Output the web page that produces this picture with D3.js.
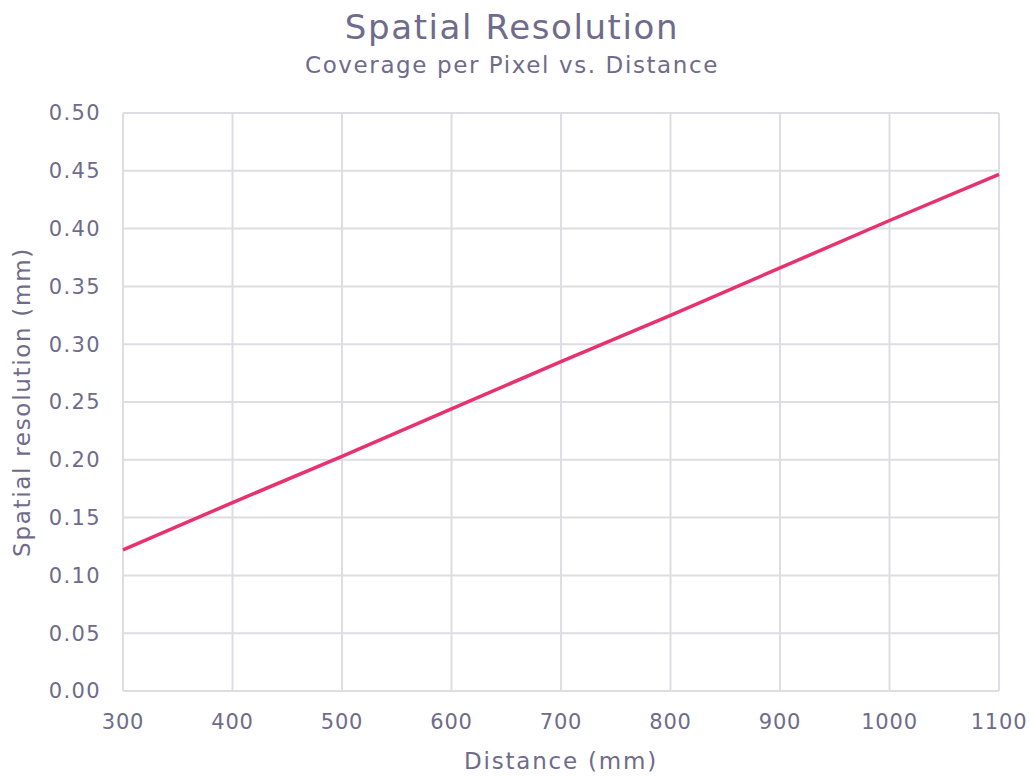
<!DOCTYPE html>
<html>
<head>
<meta charset="utf-8">
<script src="https://cdn.jsdelivr.net/npm/d3@7"></script>
<style>
  body { margin: 0; background: #fff; }
  text { font-family: "DejaVu Sans", sans-serif; fill: #6f6b8a; }
</style>
</head>
<body>
<div id="chart"></div>
<script>
// distance (mm) and spatial resolution (mm per pixel)
var distances = [300, 400, 500, 600, 700, 800, 900, 1000, 1100];
var resolution = [0.122, 0.163, 0.203, 0.244, 0.285, 0.325, 0.366, 0.407, 0.447];
var xTicks = [300, 400, 500, 600, 700, 800, 900, 1000, 1100];
var yTicks = [0, 0.05, 0.1, 0.15, 0.2, 0.25, 0.3, 0.35, 0.4, 0.45, 0.5];

var W = 1029, H = 776;
var margin = { top: 113, left: 123, right: 30, bottom: 85 };
var width = W - margin.left - margin.right,
    height = H - margin.top - margin.bottom;

var svg = d3.select("#chart").append("svg")
  .attr("width", W)
  .attr("height", H);

var g = svg.append("g")
  .attr("transform", "translate(" + margin.left + "," + margin.top + ")");

var x = d3.scaleLinear().domain([300, 1100]).range([0, width]);
var y = d3.scaleLinear().domain([0, 0.5]).range([height, 0]);

// grid lines
g.selectAll(".vgrid").data(xTicks).enter().append("line")
  .attr("x1", function(d) { return x(d); })
  .attr("x2", function(d) { return x(d); })
  .attr("y1", 0).attr("y2", height)
  .attr("stroke", "#dedde3").attr("stroke-width", 2);

g.selectAll(".hgrid").data(yTicks).enter().append("line")
  .attr("y1", function(d) { return y(d); })
  .attr("y2", function(d) { return y(d); })
  .attr("x1", 0).attr("x2", width)
  .attr("stroke", "#dedde3").attr("stroke-width", 2);

// tick labels
g.selectAll(".ylab").data(yTicks).enter().append("text")
  .attr("x", -22)
  .attr("y", function(d) { return y(d); })
  .attr("dy", "0.35em")
  .attr("text-anchor", "end")
  .attr("font-size", 21)
  .attr("letter-spacing", 1.4)
  .text(function(d) { return d3.format(".2f")(d); });

g.selectAll(".xlab").data(xTicks).enter().append("text")
  .attr("x", function(d) { return x(d); })
  .attr("y", height + 38)
  .attr("text-anchor", "middle")
  .attr("font-size", 21)
  .attr("letter-spacing", 0.8)
  .text(function(d) { return d; });

// the line
var line = d3.line()
  .x(function(d, i) { return x(distances[i]); })
  .y(function(d) { return y(d); });

g.append("path")
  .datum(resolution)
  .attr("d", line)
  .attr("fill", "none")
  .attr("stroke", "#e8326f")
  .attr("stroke-width", 3.5);

// titles
svg.append("text")
  .attr("x", 512).attr("y", 39)
  .attr("text-anchor", "middle")
  .attr("font-size", 34)
  .attr("letter-spacing", 1.6)
  .text("Spatial Resolution");

svg.append("text")
  .attr("x", 512).attr("y", 73)
  .attr("text-anchor", "middle")
  .attr("font-size", 23)
  .attr("letter-spacing", 1.6)
  .text("Coverage per Pixel vs. Distance");

svg.append("text")
  .attr("x", margin.left + width / 2).attr("y", 769)
  .attr("text-anchor", "middle")
  .attr("font-size", 23)
  .attr("letter-spacing", 1.8)
  .text("Distance (mm)");

svg.append("text")
  .attr("transform", "translate(30," + (margin.top + height / 2) + ") rotate(-90)")
  .attr("text-anchor", "middle")
  .attr("font-size", 23)
  .attr("letter-spacing", 1.7)
  .text("Spatial resolution (mm)");
</script>
</body>
</html>
